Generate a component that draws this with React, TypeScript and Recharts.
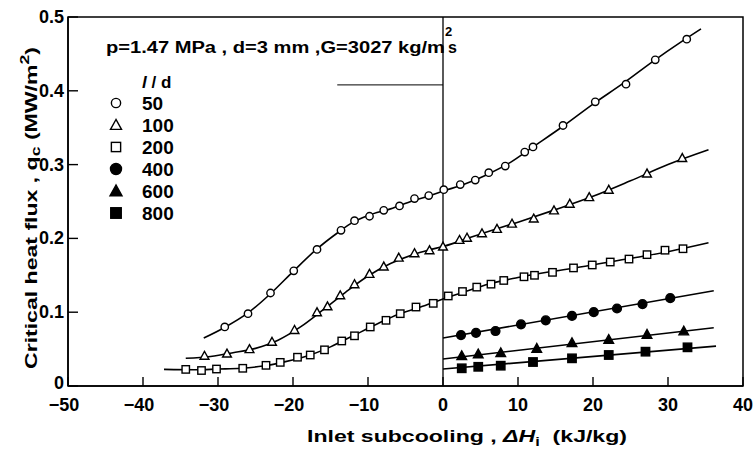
import React from 'react';
import {
  ComposedChart, Line, Scatter, XAxis, YAxis, ReferenceLine, ReferenceArea, Legend, Label,
} from 'recharts';

const FONT = '"Liberation Sans", Arial, sans-serif';

const xTicks = [-50, -40, -30, -20, -10, 0, 10, 20, 30, 40];
const xTickLabels = ['\u221250', '\u221240', '\u221230', '\u221220', '\u221210', '0', '10', '20', '30', '40'];
const yTicks = [0, 0.1, 0.2, 0.3, 0.4, 0.5];
const yTickLabels = ['0', '0.1', '0.2', '0.3', '0.4', '0.5'];
const ldLabels = ['50', '100', '200', '400', '600', '800'];

// measured points (x = inlet subcooling kJ/kg, y = CHF MW/m2)
const pts50 = [
  { x: -29.1, y: 0.080 }, { x: -26.0, y: 0.098 }, { x: -23.0, y: 0.126 }, { x: -19.9, y: 0.156 },
  { x: -16.8, y: 0.185 }, { x: -13.6, y: 0.211 }, { x: -11.8, y: 0.224 }, { x: -9.8, y: 0.230 },
  { x: -7.9, y: 0.238 }, { x: -5.8, y: 0.244 }, { x: -3.8, y: 0.254 }, { x: -1.9, y: 0.258 },
  { x: 0.1, y: 0.266 }, { x: 2.3, y: 0.273 }, { x: 4.3, y: 0.279 }, { x: 6.1, y: 0.289 },
  { x: 8.3, y: 0.298 }, { x: 10.9, y: 0.317 }, { x: 12.0, y: 0.324 }, { x: 16.0, y: 0.353 },
  { x: 20.3, y: 0.385 }, { x: 24.4, y: 0.409 }, { x: 28.3, y: 0.442 }, { x: 32.5, y: 0.470 },
];
const pts100 = [
  { x: -31.8, y: 0.041 }, { x: -28.8, y: 0.044 }, { x: -25.8, y: 0.050 }, { x: -22.8, y: 0.060 },
  { x: -19.8, y: 0.076 }, { x: -16.8, y: 0.100 }, { x: -15.4, y: 0.108 }, { x: -13.7, y: 0.123 },
  { x: -11.8, y: 0.138 }, { x: -9.8, y: 0.152 }, { x: -7.9, y: 0.162 }, { x: -5.9, y: 0.174 },
  { x: -3.8, y: 0.180 }, { x: -1.8, y: 0.184 }, { x: 0, y: 0.189 }, { x: 2.2, y: 0.198 },
  { x: 3.2, y: 0.201 }, { x: 5.2, y: 0.207 }, { x: 7.2, y: 0.213 }, { x: 9.2, y: 0.220 },
  { x: 12.1, y: 0.227 }, { x: 14.8, y: 0.238 }, { x: 16.9, y: 0.247 }, { x: 19.5, y: 0.256 },
  { x: 22.1, y: 0.266 }, { x: 27.2, y: 0.288 }, { x: 31.9, y: 0.309 },
];
const pts200 = [
  { x: -34.3, y: 0.0225 }, { x: -32.2, y: 0.021 }, { x: -30.2, y: 0.023 }, { x: -26.7, y: 0.024 },
  { x: -23.6, y: 0.028 }, { x: -21.7, y: 0.032 }, { x: -19.4, y: 0.039 }, { x: -17.7, y: 0.042 },
  { x: -15.8, y: 0.049 }, { x: -13.5, y: 0.061 }, { x: -11.8, y: 0.068 }, { x: -9.7, y: 0.080 },
  { x: -7.6, y: 0.089 }, { x: -5.7, y: 0.098 }, { x: -3.6, y: 0.107 }, { x: -1.3, y: 0.112 },
  { x: 0.7, y: 0.122 }, { x: 2.6, y: 0.128 }, { x: 4.5, y: 0.134 }, { x: 6.4, y: 0.138 },
  { x: 8.1, y: 0.143 }, { x: 10.8, y: 0.148 }, { x: 12.2, y: 0.150 }, { x: 14.6, y: 0.154 },
  { x: 17.4, y: 0.160 }, { x: 19.9, y: 0.164 }, { x: 22.3, y: 0.168 }, { x: 24.8, y: 0.172 },
  { x: 27.2, y: 0.178 }, { x: 29.6, y: 0.184 }, { x: 32.0, y: 0.186 },
];
const pts400 = [
  { x: 2.4, y: 0.069 }, { x: 4.4, y: 0.072 }, { x: 7.0, y: 0.0745 }, { x: 10.4, y: 0.0836 },
  { x: 13.7, y: 0.089 }, { x: 17.2, y: 0.095 }, { x: 20.1, y: 0.100 }, { x: 23.2, y: 0.105 },
  { x: 26.6, y: 0.111 }, { x: 30.3, y: 0.119 },
];
const pts600 = [
  { x: 2.5, y: 0.041 }, { x: 4.7, y: 0.0434 }, { x: 7.7, y: 0.045 }, { x: 12.5, y: 0.051 },
  { x: 17.2, y: 0.0587 }, { x: 22.1, y: 0.063 }, { x: 27.2, y: 0.070 }, { x: 32.1, y: 0.0745 },
];
const pts800 = [
  { x: 2.5, y: 0.024 }, { x: 4.7, y: 0.026 }, { x: 7.7, y: 0.0275 }, { x: 12.0, y: 0.0325 },
  { x: 17.2, y: 0.0375 }, { x: 22.1, y: 0.042 }, { x: 27.0, y: 0.0465 }, { x: 32.6, y: 0.0524 },
];

// fitted curves
const fit50 = [
  { x: -31.9, y: 0.065 }, { x: -29, y: 0.080 }, { x: -26, y: 0.099 }, { x: -23, y: 0.125 },
  { x: -20, y: 0.155 }, { x: -17, y: 0.184 }, { x: -14, y: 0.208 }, { x: -12, y: 0.222 },
  { x: -10, y: 0.231 }, { x: -7, y: 0.240 }, { x: -4, y: 0.251 }, { x: -2, y: 0.257 },
  { x: 0, y: 0.264 }, { x: 3, y: 0.274 }, { x: 6, y: 0.287 }, { x: 9, y: 0.303 },
  { x: 12, y: 0.324 }, { x: 16, y: 0.352 }, { x: 20, y: 0.382 }, { x: 24, y: 0.410 },
  { x: 28, y: 0.440 }, { x: 32, y: 0.468 }, { x: 34.4, y: 0.484 },
];
const fit100 = [
  { x: -34.3, y: 0.0375 }, { x: -31, y: 0.040 }, { x: -28, y: 0.045 }, { x: -25, y: 0.051 },
  { x: -22, y: 0.062 }, { x: -19, y: 0.080 }, { x: -16, y: 0.103 }, { x: -13, y: 0.127 },
  { x: -10, y: 0.149 }, { x: -7, y: 0.166 }, { x: -4, y: 0.178 }, { x: -2, y: 0.184 },
  { x: 0, y: 0.189 }, { x: 5, y: 0.206 }, { x: 10, y: 0.222 }, { x: 15, y: 0.239 },
  { x: 20, y: 0.257 }, { x: 25, y: 0.278 }, { x: 30, y: 0.300 }, { x: 35.4, y: 0.320 },
];
const fit200 = [
  { x: -37.2, y: 0.0225 }, { x: -33, y: 0.022 }, { x: -30, y: 0.023 }, { x: -27, y: 0.024 },
  { x: -24, y: 0.027 }, { x: -21, y: 0.033 }, { x: -18, y: 0.041 }, { x: -15, y: 0.053 },
  { x: -12, y: 0.068 }, { x: -9, y: 0.083 }, { x: -6, y: 0.097 }, { x: -3, y: 0.107 },
  { x: 0, y: 0.118 }, { x: 3, y: 0.128 }, { x: 6, y: 0.138 }, { x: 10, y: 0.147 },
  { x: 15, y: 0.156 }, { x: 20, y: 0.164 }, { x: 25, y: 0.173 }, { x: 30, y: 0.182 },
  { x: 35.4, y: 0.194 },
];
const fit400 = [{ x: 0, y: 0.065 }, { x: 36.1, y: 0.129 }];
const fit600 = [{ x: 0, y: 0.0366 }, { x: 36.1, y: 0.079 }];
const fit800 = [{ x: 0, y: 0.023 }, { x: 36.4, y: 0.054 }];

type MarkerKind = 'oc' | 'ot' | 'os' | 'fc' | 'ft' | 'fs';
const markerKinds: MarkerKind[] = ['oc', 'ot', 'os', 'fc', 'ft', 'fs'];

const drawMarker = (kind: MarkerKind, cx: number, cy: number, scale = 1) => {
  const open = kind[0] === 'o';
  const fill = open ? '#fff' : '#000';
  const sw = 1.4;
  if (kind[1] === 'c') {
    const r = (open ? 3.7 : 4.4) * scale;
    return <circle cx={cx} cy={cy} r={r} fill={fill} stroke="#000" strokeWidth={sw} />;
  }
  if (kind[1] === 't') {
    const s = (open ? 4.4 : 4.8) * scale;
    const pts = `${cx},${cy - s} ${cx - s},${cy + s * 0.8} ${cx + s},${cy + s * 0.8}`;
    return <polygon points={pts} fill={fill} stroke="#000" strokeWidth={sw} strokeLinejoin="miter" />;
  }
  const h = (open ? 3.7 : 4.2) * scale;
  return <rect x={cx - h} y={cy - h} width={2 * h} height={2 * h} fill={fill} stroke="#000" strokeWidth={sw} />;
};

const makeShape = (kind: MarkerKind) => (p: any) => {
  if (p.cx == null || p.cy == null) return <g />;
  return drawMarker(kind, p.cx, p.cy);
};

const XTick = (props: any) => {
  const { x, y, payload, index } = props;
  const idx = xTicks.indexOf(payload.value);
  return (
    <g>
      <line x1={x} x2={x} y1={y} y2={y - 9} stroke="#000" strokeWidth={1.4} />
      <text x={x - (payload.value < 0 ? 4 : 0)} y={y + 25} textAnchor="middle" fontFamily={FONT}
        fontWeight="bold" fontSize={18} fill="#000">{xTickLabels[idx >= 0 ? idx : index]}</text>
    </g>
  );
};

const YTick = (props: any) => {
  const { x, y, payload, index } = props;
  const idx = yTicks.indexOf(payload.value);
  return (
    <g>
      <line x1={x} x2={x + 10} y1={y} y2={y} stroke="#000" strokeWidth={1.4} />
      <text x={x - 4} y={y + (payload.value === 0 ? 3 : 6)} textAnchor="end" fontFamily={FONT}
        fontWeight="bold" fontSize={18} fill="#000">{yTickLabels[idx >= 0 ? idx : index]}</text>
    </g>
  );
};

const renderOverlay = () => (
  <svg width={755} height={453} style={{ position: 'absolute', left: 0, top: 0 }}>
    <g fontFamily={FONT} fontWeight="bold" fill="#000">
      <text x={106} y={53} fontSize={16} textLength={339} lengthAdjust="spacingAndGlyphs">
        p=1.47 MPa , d=3 mm ,G=3027 kg/m
      </text>
      <text x={445} y={36} fontSize={13}>2</text>
      <text x={448} y={53} fontSize={16}>s</text>
      <text x={142} y={88} fontSize={17}><tspan fontStyle="italic">l</tspan> / d</text>
      {ldLabels.map((lab, i) => {
        const cy = 103 + i * 22;
        return (
          <g key={lab}>
            {drawMarker(markerKinds[i], 116, cy, 1.25)}
            <text x={142} y={cy + 7} fontSize={19}>{lab}</text>
          </g>
        );
      })}
    </g>
  </svg>
);

const XTitle = (props: any) => {
  const vb = props.viewBox || { x: 68, y: 386, width: 675, height: 50 };
  return (
    <text x={vb.x + 239} y={vb.y + 56} fontFamily={FONT} fontWeight="bold" fontSize={17} fill="#000"
      textLength={320} lengthAdjust="spacingAndGlyphs">
      Inlet subcooling , <tspan fontStyle="italic">{'\u0394'}H</tspan>
      <tspan dy={4} fontSize={12}>i</tspan>
      <tspan dy={-4}>{'\u00a0\u00a0(kJ/kg)'}</tspan>
    </text>
  );
};

const YTitle = (props: any) => {
  const vb = props.viewBox || { x: 8, y: 17, width: 60, height: 369 };
  const cx = vb.x + 25;
  const cy = 208;
  return (
    <text x={cx} y={cy} transform={`rotate(-90 ${cx} ${cy})`} textAnchor="middle" dominantBaseline="middle"
      fontFamily={FONT} fontWeight="bold" fontSize={17} fill="#000" textLength={322} lengthAdjust="spacingAndGlyphs">
      Critical heat flux , q<tspan dy={4} fontSize={13}>c</tspan>
      <tspan dy={-4}>{'\u00a0(MW/m'}</tspan>
      <tspan dy={-7} fontSize={13}>2</tspan>
      <tspan dy={7}>)</tspan>
    </text>
  );
};

const lineProps = {
  type: 'monotone' as const, dataKey: 'y', stroke: '#000', strokeWidth: 1.6, dot: false,
  activeDot: false, isAnimationActive: false, legendType: 'none' as const,
};

export default function App() {
  return (
    <div style={{ position: 'absolute', left: 0, top: 0, width: 755, height: 453, background: '#fff' }}>
      <ComposedChart width={755} height={453} margin={{ top: 17, right: 12, left: 8, bottom: 17 }}>
        <XAxis type="number" dataKey="x" domain={[-50, 40]} ticks={xTicks} tick={<XTick />}
          tickSize={0} tickMargin={0} tickLine={false} axisLine={{ stroke: '#000', strokeWidth: 1.5 }}
          height={50} allowDataOverflow interval={0}>
          <Label content={<XTitle />} />
        </XAxis>
        <YAxis type="number" dataKey="y" domain={[0, 0.5]} ticks={yTicks} tick={<YTick />}
          tickSize={0} tickMargin={0} tickLine={false} axisLine={{ stroke: '#000', strokeWidth: 1.5 }}
          width={60} allowDataOverflow interval={0}>
          <Label content={<YTitle />} />
        </YAxis>
        <ReferenceArea x1={-50} x2={40} y1={0} y2={0.5} fill="none" stroke="#000" strokeWidth={1.5} />
        <ReferenceLine x={0} stroke="#000" strokeWidth={1.3} />
        <ReferenceLine segment={[{ x: -14.1, y: 0.408 }, { x: 0, y: 0.408 }]} stroke="#000" strokeWidth={1} />
        <Line data={fit50} {...lineProps} />
        <Line data={fit100} {...lineProps} />
        <Line data={fit200} {...lineProps} />
        <Line data={fit400} {...lineProps} type="linear" />
        <Line data={fit600} {...lineProps} type="linear" />
        <Line data={fit800} {...lineProps} type="linear" />
        <Scatter data={pts50} dataKey="y" shape={makeShape('oc')} isAnimationActive={false} />
        <Scatter data={pts100} dataKey="y" shape={makeShape('ot')} isAnimationActive={false} />
        <Scatter data={pts200} dataKey="y" shape={makeShape('os')} isAnimationActive={false} />
        <Scatter data={pts400} dataKey="y" shape={makeShape('fc')} isAnimationActive={false} />
        <Scatter data={pts600} dataKey="y" shape={makeShape('ft')} isAnimationActive={false} />
        <Scatter data={pts800} dataKey="y" shape={makeShape('fs')} isAnimationActive={false} />
        <Legend content={renderOverlay} layout="horizontal" verticalAlign="middle" align="center"
          wrapperStyle={{ left: 0, top: 0, width: 755, height: 453, pointerEvents: 'none' }} />
      </ComposedChart>
    </div>
  );
}
